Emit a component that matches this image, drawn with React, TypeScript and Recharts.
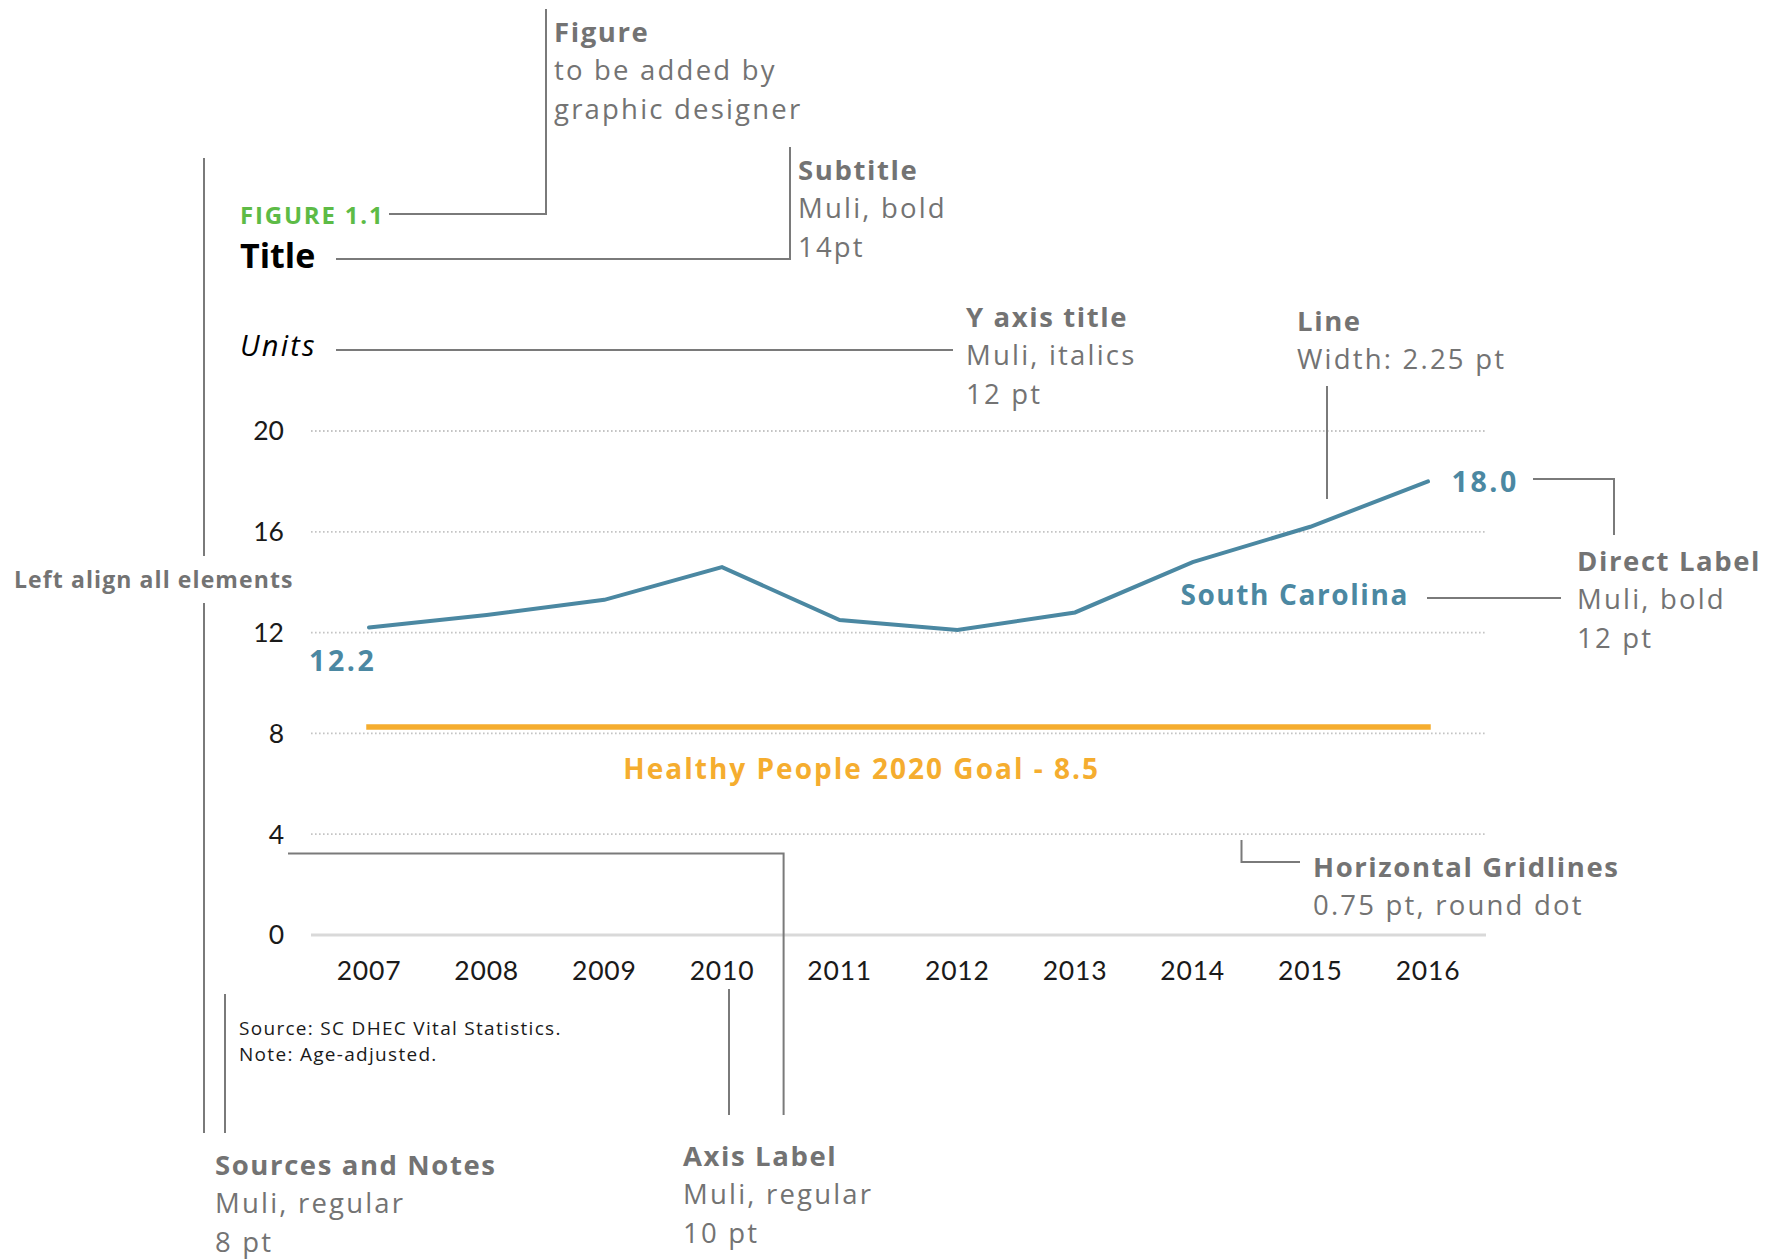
import React from 'react';
import { LineChart, Line, XAxis, YAxis, CartesianGrid, LabelList } from 'recharts';

const years = ['2007', '2008', '2009', '2010', '2011', '2012', '2013', '2014', '2015', '2016'];
const southCarolina = [12.2, 12.7, 13.3, 14.6, 12.5, 12.1, 12.8, 14.8, 16.2, 18.0];
const goal = [8.25, 8.25, 8.25, 8.25, 8.25, 8.25, 8.25, 8.25, 8.25, 8.25];
const yTicks = [0, 4, 8, 12, 16, 20];
const seriesName = 'South Carolina';
const goalLabel = 'Healthy People 2020 Goal - 8.5';

const data = years.map((year, i) => ({ year, sc: southCarolina[i], goal: goal[i] }));

const FONT = '"Open Sans", "Noto Sans", sans-serif';
const TICK_FONT = 'Lato, "Open Sans", sans-serif';
const W = 1775;
const H = 1259;
const BLUE = '#4B88A2';
const ORANGE = '#F5AD2F';
const GRAY = '#737373';
const LINE_GRAY = '#7a7a7a';

const scLabel = (props: any) => {
  const { x, y, index } = props;
  const last = southCarolina.length - 1;
  if (index === 0) {
    return (
      <text x={x - 60} y={y + 43} fill={BLUE} fontFamily={FONT} fontWeight={700} fontSize={28.5} letterSpacing={2.6}>
        {southCarolina[0].toFixed(1)}
      </text>
    );
  }
  if (index === last) {
    return (
      <g>
        <text x={x + 23.5} y={y + 10.6} fill={BLUE} fontFamily={FONT} fontWeight={700} fontSize={28.5} letterSpacing={2.6}>
          {southCarolina[last].toFixed(1)}
        </text>
        <text x={x - 19} y={y + 123.6} textAnchor="end" fill={BLUE} fontFamily={FONT} fontWeight={700} fontSize={28} letterSpacing={1.6}>
          {seriesName}
        </text>
      </g>
    );
  }
  return null;
};

const goalLabelContent = (props: any) => {
  const { x, y, index } = props;
  if (index !== 4) return null;
  return (
    <text x={x + 22} y={y + 52} textAnchor="middle" fill={ORANGE} fontFamily={FONT} fontWeight={700} fontSize={28} letterSpacing={2.0}>
      {goalLabel}
    </text>
  );
};

const Ann = ({ x, y, lines }: { x: number; y: number; lines: string[] }) => (
  <g fontFamily={FONT} fontSize={27.5} fill={GRAY}>
    {lines.map((l, i) => (
      <text key={i} x={x} y={y + i * 38.3} fontWeight={i === 0 ? 700 : 400} letterSpacing={i === 0 ? 1.6 : 2.2}>
        {l}
      </text>
    ))}
  </g>
);

const Overlay = () => (
  <svg width={W} height={H} style={{ position: 'absolute', left: 0, top: 0, pointerEvents: 'none' }}>
    <g stroke={LINE_GRAY} strokeWidth={2} fill="none">
      <path d="M546,9 V214 H389" />
      <path d="M336,259 H790 V147" />
      <path d="M336,350 H953" />
      <path d="M1327,386 V499" />
      <path d="M1533,479 H1614 V535" />
      <path d="M1427,598 H1561" />
      <path d="M1241.5,840 V862 H1300" />
      <path d="M288,853.5 H783.6 V1115" />
      <path d="M729,989 V1115" />
      <path d="M204,158 V556" />
      <path d="M204,603 V1133" />
      <path d="M225,994 V1133" />
    </g>
    <Ann x={554} y={42} lines={['Figure', 'to be added by', 'graphic designer']} />
    <Ann x={798} y={180} lines={['Subtitle', 'Muli, bold', '14pt']} />
    <Ann x={966} y={327} lines={['Y axis title', 'Muli, italics', '12 pt']} />
    <Ann x={1297} y={331} lines={['Line', 'Width: 2.25 pt']} />
    <Ann x={1577} y={571} lines={['Direct Label', 'Muli, bold', '12 pt']} />
    <Ann x={1313} y={877} lines={['Horizontal Gridlines', '0.75 pt, round dot']} />
    <Ann x={215} y={1175} lines={['Sources and Notes', 'Muli, regular', '8 pt']} />
    <Ann x={683} y={1166} lines={['Axis Label', 'Muli, regular', '10 pt']} />
    <text x={14} y={587.5} fontFamily={FONT} fontSize={23} fontWeight={700} fill={GRAY} letterSpacing={1.1}>
      Left align all elements
    </text>
    <text x={240} y={224} fontFamily={FONT} fontSize={24} fontWeight={700} fill="#5DBB46" letterSpacing={1.8}>
      FIGURE 1.1
    </text>
    <text x={240} y={268} fontFamily={FONT} fontSize={34} fontWeight={700} fill="#000">
      Title
    </text>
    <text x={240} y={356} fontFamily={FONT} fontSize={29} fontStyle="italic" fill="#000" letterSpacing={2.2}>
      Units
    </text>
    <text x={239} y={1035} fontFamily={FONT} fontSize={19} fill="#1a1a1a" letterSpacing={1.3}>
      Source: SC DHEC Vital Statistics.
    </text>
    <text x={239} y={1060.7} fontFamily={FONT} fontSize={19} fill="#1a1a1a" letterSpacing={1.3}>
      Note: Age-adjusted.
    </text>
  </svg>
);

export default function App() {
  return (
    <div style={{ position: 'absolute', left: 0, top: 0, width: W, height: H, background: '#fff' }}>
      <LineChart
        width={W}
        height={H}
        data={data}
        margin={{ top: 431, right: 289, bottom: 294, left: 251 }}
      >
        <CartesianGrid vertical={false} stroke="#c4c4c4" strokeWidth={1.8} strokeDasharray="1.6 2.4" />
        <XAxis
          dataKey="year"
          padding={{ left: 58, right: 58 }}
          axisLine={{ stroke: '#d9d9d9', strokeWidth: 3 }}
          tickLine={false}
          tickMargin={20}
          height={30}
          interval={0}
          tick={{ fill: '#1a1a1a', fontSize: 26.5, fontFamily: TICK_FONT, letterSpacing: 0.8 }}
        />
        <YAxis
          domain={[0, 20]}
          ticks={yTicks}
          axisLine={false}
          tickLine={false}
          tickMargin={21}
          width={60}
          interval={0}
          tick={{ fill: '#1a1a1a', fontSize: 26.5, fontFamily: TICK_FONT }}
        />
        <Line
          dataKey="goal"
          stroke={ORANGE}
          strokeWidth={5.5}
          strokeLinecap="square"
          dot={false}
          activeDot={false}
          isAnimationActive={false}
        >
          <LabelList dataKey="goal" content={goalLabelContent} />
        </Line>
        <Line
          dataKey="sc"
          stroke={BLUE}
          strokeWidth={4}
          strokeLinecap="round"
          dot={false}
          activeDot={false}
          isAnimationActive={false}
        >
          <LabelList dataKey="sc" content={scLabel} />
        </Line>
      </LineChart>
      <Overlay />
    </div>
  );
}
